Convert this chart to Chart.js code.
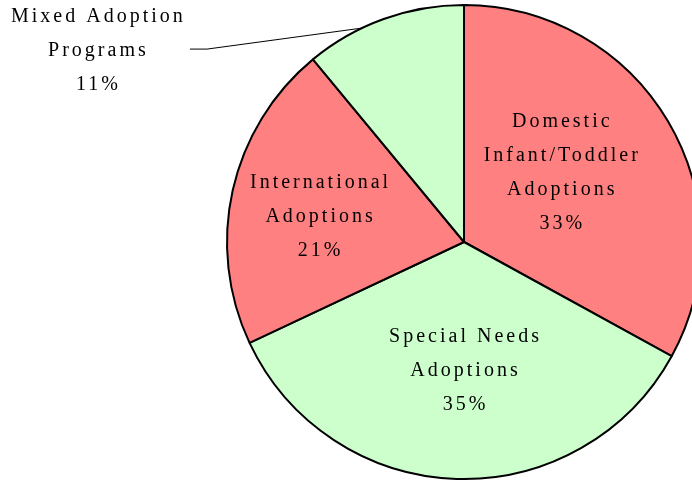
<!DOCTYPE html>
<html>
<head>
<meta charset="utf-8">
<script src="https://cdn.jsdelivr.net/npm/chart.js@4/dist/chart.umd.min.js"></script>
<style>
  html, body { margin: 0; padding: 0; background: #fff; overflow: hidden; }
  #wrap { width: 928px; height: 481px; }
</style>
</head>
<body>
<div id="wrap"><canvas id="pieChart" width="928" height="481"></canvas></div>
<script>
// Adoption programs share (%)
const categories = [
    ['Domestic', 'Infant/Toddler', 'Adoptions'],
    ['Special Needs', 'Adoptions'],
    ['International', 'Adoptions'],
    ['Mixed Adoption', 'Programs']
];
const shares = [33, 35, 21, 11];
const sliceColors = ['#FF8080', '#CCFFCC', '#FF8080', '#CCFFCC'];

// label placement: radial fraction + angle tweak (deg) from slice middle
const labelLayout = [
    { frac: 0.506, shift: -5.6 },
    { frac: 0.536, shift: -1.8 },
    { frac: 0.622, shift: -2.1 },
    { outside: true, edgeShift: -5.7, elbow: [-1.084, -0.814], lineEnd: -1.156, textX: -1.549 }
];

const LINE_H = 34;

function drawBlock(ctx, lines, cx, cy) {
    const n = lines.length;
    lines.forEach((t, i) => {
        const y = cy + (i - (n - 1) / 2) * LINE_H + 7;
        ctx.fillText(t, cx + 1.5, y);
    });
}

const pieLabels = {
    id: 'pieLabels',
    afterDatasetsDraw(chart) {
        const ctx = chart.ctx;
        const arcs = chart.getDatasetMeta(0).data;
        ctx.save();
        ctx.font = '20px "Liberation Serif", "Times New Roman", serif';
        ctx.letterSpacing = '3px';
        ctx.fillStyle = '#000';
        ctx.textAlign = 'center';
        ctx.textBaseline = 'alphabetic';
        arcs.forEach((arc, i) => {
            const { x, y, startAngle, endAngle, outerRadius } = arc.getProps(['x', 'y', 'startAngle', 'endAngle', 'outerRadius']);
            const mid = (startAngle + endAngle) / 2;
            const lay = labelLayout[i];
            const lines = categories[i].concat([shares[i] + '%']);
            if (lay.outside) {
                const a = mid + lay.edgeShift * Math.PI / 180;
                const sx = x + outerRadius * Math.cos(a);
                const sy = y + outerRadius * Math.sin(a);
                const ex = x + lay.elbow[0] * outerRadius;
                const ey = y + lay.elbow[1] * outerRadius;
                ctx.beginPath();
                ctx.lineWidth = 1;
                ctx.strokeStyle = '#000';
                ctx.moveTo(sx, sy);
                ctx.lineTo(ex, ey);
                ctx.lineTo(x + lay.lineEnd * outerRadius, ey);
                ctx.stroke();
                drawBlock(ctx, lines, x + lay.textX * outerRadius, ey);
            } else {
                const a = mid + lay.shift * Math.PI / 180;
                const r = lay.frac * outerRadius;
                drawBlock(ctx, lines, x + r * Math.cos(a), y + r * Math.sin(a));
            }
        });
        ctx.restore();
    }
};

new Chart(document.getElementById('pieChart').getContext('2d'), {
    type: 'pie',
    data: {
        labels: categories.map(c => c.join(' ')),
        datasets: [{
            data: shares,
            backgroundColor: sliceColors,
            borderColor: '#000',
            borderWidth: 2,
            borderAlign: 'center'
        }]
    },
    options: {
        responsive: false,
        animation: false,
        devicePixelRatio: 1,
        layout: { padding: { top: 4, bottom: 1, left: 0, right: 0 } },
        plugins: {
            legend: { display: false },
            tooltip: { enabled: false }
        }
    },
    plugins: [pieLabels]
});
</script>
</body>
</html>
